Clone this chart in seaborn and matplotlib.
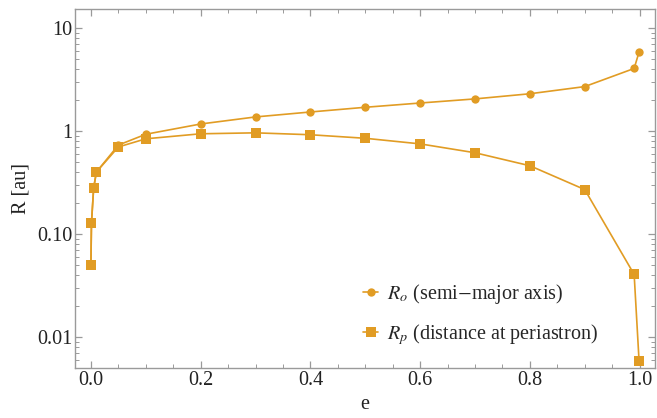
import numpy as np
import pandas as pd
import matplotlib
matplotlib.use("Agg")
import matplotlib.pyplot as plt
import seaborn as sns
from matplotlib.ticker import FixedLocator, FixedFormatter, LogLocator, MultipleLocator, NullFormatter

# Data
ecc = [0.0, 0.001, 0.005, 0.01, 0.05, 0.1, 0.2, 0.3, 0.4, 0.5, 0.6, 0.7, 0.8, 0.9, 0.99, 0.999]
r_semi = [0.050, 0.128, 0.28, 0.40, 0.73, 0.93, 1.17, 1.37, 1.53, 1.70, 1.87, 2.05, 2.30, 2.70, 4.05, 5.86]
r_peri = [0.050, 0.128, 0.28, 0.40, 0.70, 0.84, 0.94, 0.96, 0.92, 0.85, 0.75, 0.615, 0.46, 0.27, 0.0405, 0.0058]

ytick_vals = [0.01, 0.1, 1, 10]
ytick_labels = ["0.01", "0.10", "1", "10"]

label_semi = r"$R_o$ (semi$-$major axis)"
label_peri = r"$R_p$ (distance at periastron)"

color = "#E19C24"
frame = "#9a9a9a"
text_col = "#222222"

sns.set_style("ticks")
plt.rcParams["font.family"] = ["Liberation Serif", "DejaVu Serif"]
plt.rcParams["mathtext.fontset"] = "stix"

df = pd.DataFrame({"e": ecc, "semi": r_semi, "peri": r_peri})

fig = plt.figure(figsize=(6.57, 4.18), dpi=100)
# axes box: left 75px, right 655px, top 9px, bottom 368px
ax = fig.add_axes([75 / 657, 1 - 368 / 418, 580 / 657, 359 / 418])

sns.lineplot(data=df, x="e", y="semi", ax=ax, color=color, marker="o", markersize=6,
             markeredgewidth=0, linewidth=1.2, sort=False, label=label_semi)
sns.lineplot(data=df, x="e", y="peri", ax=ax, color=color, marker="s", markersize=7,
             markeredgewidth=0, linewidth=1.2, sort=False, label=label_peri)

ax.set_yscale("log")
ax.set_xlim(-0.029, 1.028)
ax.set_ylim(0.005, 15.3)

ax.yaxis.set_major_locator(FixedLocator(ytick_vals))
ax.yaxis.set_major_formatter(FixedFormatter(ytick_labels))
ax.yaxis.set_minor_locator(LogLocator(base=10, subs=np.arange(2, 10)))
ax.yaxis.set_minor_formatter(NullFormatter())
ax.xaxis.set_major_locator(MultipleLocator(0.2))
ax.xaxis.set_minor_locator(MultipleLocator(0.05))
ax.xaxis.set_major_formatter(plt.FuncFormatter(lambda v, p: f"{v:.1f}"))

ax.tick_params(which="both", direction="in", top=True, right=True, color=frame,
               labelsize=14.5, labelcolor=text_col, pad=2)
ax.tick_params(which="major", length=5, width=0.9)
ax.tick_params(which="minor", length=3, width=0.7)
for s in ax.spines.values():
    s.set_color(frame)
    s.set_linewidth(1.0)

ax.set_xlabel("e", fontsize=14.5, color=text_col, labelpad=4)
ax.set_ylabel("R [au]", fontsize=14.5, color=text_col, labelpad=5)

ax.legend(loc="center left", bbox_to_anchor=(0.497, 0.150), frameon=False,
          borderpad=0, borderaxespad=0, fontsize=14.5, handlelength=0.75,
          handletextpad=0.45, labelspacing=0.8)

fig.savefig("out.png", dpi=100)
